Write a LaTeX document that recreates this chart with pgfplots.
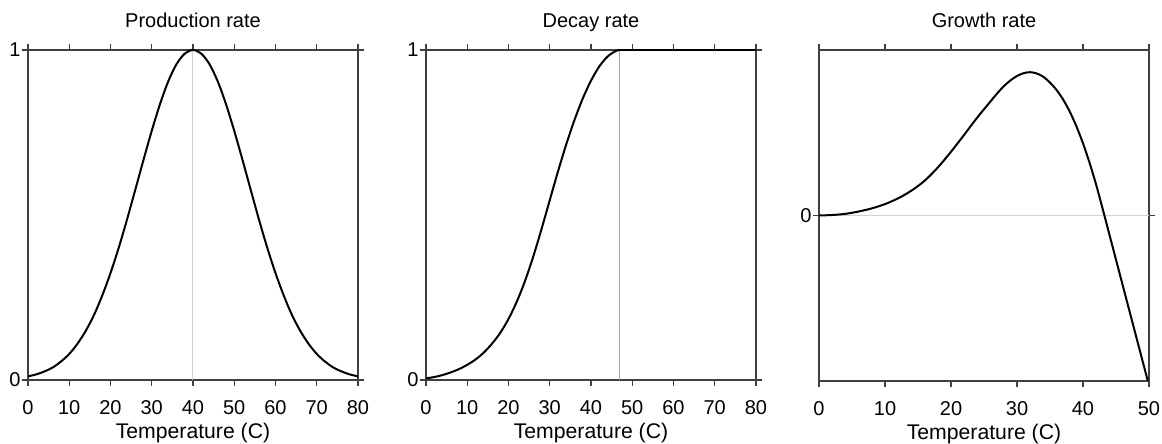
\documentclass[border=0pt]{standalone}
\usepackage{fontspec}
\setmainfont{Liberation Sans}
\usepackage{pgfplots}
\pgfplotsset{compat=1.18}

% production rate (bell shape round 40 C)
\pgfplotstableread{
x y
0 0.011
2 0.017
4 0.026
6 0.038
8 0.056
10 0.079
12 0.110
14 0.149
16 0.197
18 0.256
20 0.324
22 0.401
24 0.486
26 0.576
28 0.667
30 0.755
32 0.836
34 0.905
36 0.957
38 0.989
40 1.000
42 0.989
44 0.957
46 0.905
48 0.836
50 0.755
52 0.667
54 0.576
56 0.486
58 0.401
60 0.324
62 0.256
64 0.197
66 0.149
68 0.110
70 0.079
72 0.056
74 0.038
76 0.026
78 0.017
80 0.011
}\prodtab

% decay rate, rises to 1 at about 47 C
\pgfplotstableread{
x y
0 0.005
2 0.009
4 0.015
6 0.023
8 0.033
10 0.046
12 0.062
14 0.083
16 0.110
18 0.143
20 0.185
22 0.237
24 0.300
26 0.374
28 0.457
30 0.545
32 0.632
34 0.714
36 0.788
38 0.853
40 0.907
42 0.950
44 0.980
46 0.997
47 1.000
}\decaytab

% growth rate
\pgfplotstableread{
x y
0 0
2 0.003
4 0.010
6 0.024
8 0.043
10 0.069
12 0.104
14 0.150
16 0.210
18 0.290
20 0.385
22 0.488
24 0.593
26 0.690
27 0.738
28 0.781
29 0.816
30 0.843
31 0.860
32 0.866
33 0.858
34 0.838
35 0.803
36 0.758
37 0.700
38 0.627
39 0.539
40 0.436
41 0.318
42 0.185
43 0.037
44 -0.115
46 -0.419
48 -0.723
50 -1.027
}\growtab

\pgfplotsset{
  panel/.style={
    width=165pt, height=165pt, scale only axis,
    axis line style={black!75, line width=0.6pt},
    every tick/.style={black!75, line width=0.6pt},
    tick align=outside, major tick length=3pt,
    xtick pos=both, ytick pos=both,
    every axis title/.style={at={(0.5,1)}, anchor=base, yshift=11pt},
    every axis x label/.style={at={(0.5,0)}, anchor=base, yshift=-29.5pt,
      font=\fontsize{10.6}{12}\selectfont},
    xticklabel style={anchor=base, yshift=-14.5pt},
    yticklabel style={inner xsep=0.5pt},
    /pgf/number format/assume math mode=true,
    tick label style={font=\normalsize},
    clip=true,
  },
  curve/.style={black, line width=1pt},
}

\begin{document}
\begin{tikzpicture}
\begin{axis}[panel, at={(14pt,32pt)},
  xmin=0, xmax=80, ymin=0, ymax=1,
  xtick={0,10,...,80}, ytick={0,1},
  title={Production rate}, xlabel={Temperature (C)}]
\addplot[gray!35, line width=0.5pt] coordinates {(40,0) (40,1)};
\addplot[curve, smooth] table {\prodtab};
\end{axis}

\begin{axis}[panel, at={(213pt,32pt)},
  xmin=0, xmax=80, ymin=0, ymax=1,
  xtick={0,10,...,80}, ytick={0,1},
  title={Decay rate}, xlabel={Temperature (C)}]
\addplot[gray!70, line width=0.5pt] coordinates {(47,0) (47,1)};
\addplot[curve, smooth] table {\decaytab};
\addplot[curve] coordinates {(47,1) (80,1)};
\end{axis}

\begin{axis}[panel, at={(409.5pt,31.5pt)}, height=165.5pt,
  xmin=0, xmax=50, ymin=-1, ymax=1,
  xtick={0,10,...,50}, ytick={0},
  title={Growth rate}, xlabel={Temperature (C)}]
\addplot[gray!35, line width=0.5pt] coordinates {(0,0) (50,0)};
\addplot[curve, smooth] table {\growtab};
\end{axis}

\pgfresetboundingbox
\path[use as bounding box] (0,0) rectangle (581pt,222pt);
\end{tikzpicture}
\end{document}
